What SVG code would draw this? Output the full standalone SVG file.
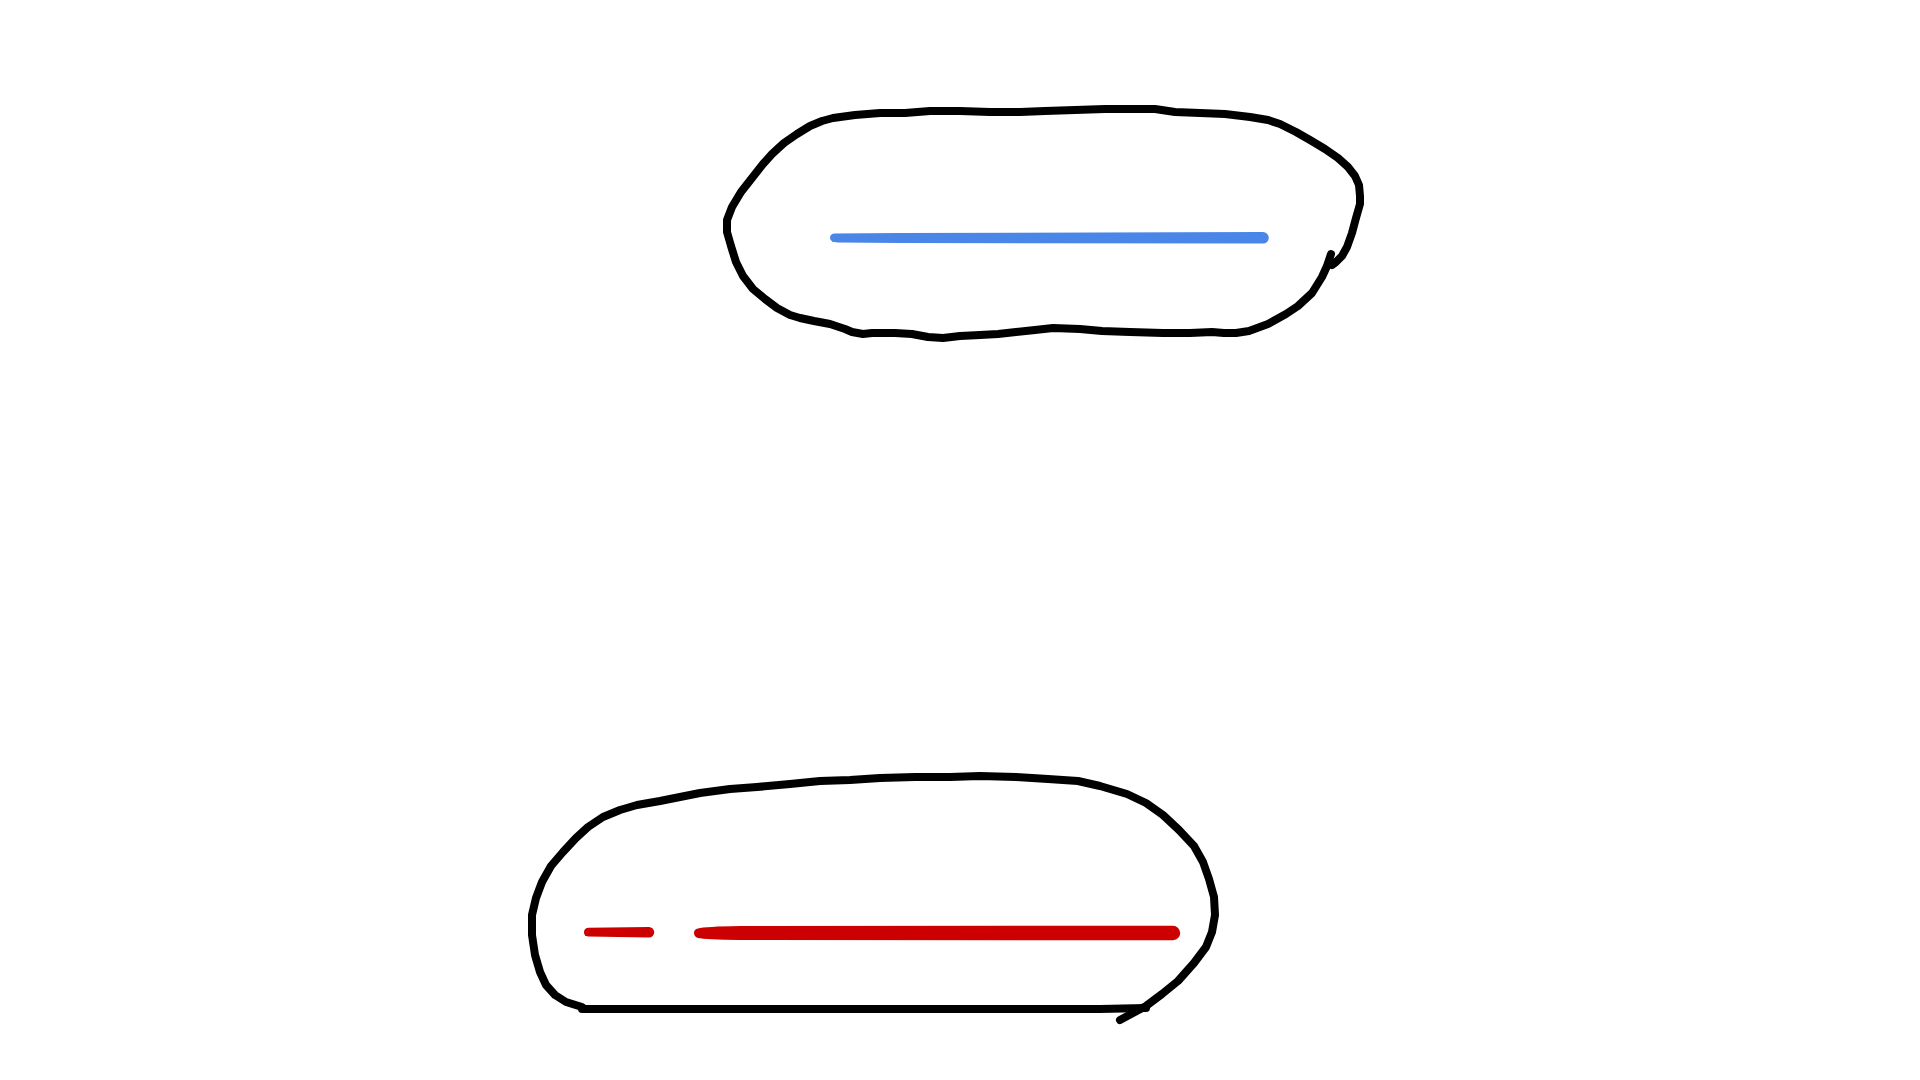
<svg xmlns="http://www.w3.org/2000/svg" width="1920" height="1080" viewBox="0 0 1920 1080">
  <style>
    .outline { fill: none; stroke: #000; stroke-width: 8; stroke-linecap: round; stroke-linejoin: round; }
    .blue { fill: #4a86e8; }
    .red { fill: #cc0000; }
  </style>
  <rect width="1920" height="1080" fill="#fff"/>
  <g id="node-top">
    <path class="outline" d="M1331,254 L1327,266 L1322,277 L1312,293 L1298,306 L1286,314 L1268,324 L1249,331 L1236,333 L1224,333 L1212,332 L1190,333 L1163,333 L1130,332 L1102,331 L1080,329 L1053,328 L1035,330 L1016,332 L998,334 L980,335 L960,336 L943,338 L928,337 L912,334 L895,333 L882,333 L872,333 L863,334 L852,332 L845,329 L830,324 L814,321 L800,318 L790,315 L777,308 L765,299 L753,289 L743,276 L736,262 L731,246 L727,232 L727,220 L732,207 L741,192 L752,178 L763,164 L772,154 L784,143 L797,134 L810,126 L822,121 L833,118 L855,115 L880,113 L905,113 L930,111 L960,111 L990,112 L1020,112 L1045,111 L1075,110 L1105,109 L1135,109 L1155,109 L1175,112 L1200,113 L1225,114 L1250,117 L1268,120 L1280,124 L1296,132 L1310,140 L1325,149 L1338,158 L1348,167 L1355,176 L1359,185 L1360,196 L1360,204 L1356,218 L1352,233 L1347,247 L1342,256 L1336,262 L1332,265"/>
  </g>
  <g id="node-bottom">
    <path class="outline" d="M582,1009 L700,1009 L900,1009 L1100,1009 L1146,1008"/>
    <path class="outline" d="M1120,1020 L1146,1006 L1162,994 L1178,981 L1194,963 L1206,947 L1212,932 L1215,915 L1214,897 L1209,879 L1203,862 L1194,846 L1179,830 L1163,815 L1146,803 L1127,794 L1100,786 L1078,781 L1048,779 L1016,777 L980,776 L950,777 L915,777 L880,778 L850,780 L820,781 L790,784 L757,787 L730,789 L700,793 L680,797 L660,801 L637,805 L620,810 L603,817 L588,827 L576,838 L563,852 L551,866 L542,882 L536,898 L532,915 L532,935 L535,955 L540,972 L546,985 L555,995 L566,1002 L582,1007"/>
  </g>
  <g id="connectors">
    <path class="blue" d="M834,233.5 L900,233 L1263,232 A5.8,5.8 0 0 1 1263,243.6 L900,243 L838,242.5 Q830,242 830,238 Q830,234 834,233.5 Z"/>
    <path class="red" d="M588,927.8 L649,927 A5.2,5.2 0 0 1 649,937.4 L588,936.6 Q584,936 584,932.3 Q584,928.3 588,927.8 Z"/>
    <path class="red" d="M698,928.5 Q705,926.5 740,926 L1173,925.8 A7.2,7.2 0 0 1 1173,940.2 L740,940 Q705,939.5 698,938 Q694,936.5 694,933 Q694,929 698,928.5 Z"/>
  </g>
</svg>
